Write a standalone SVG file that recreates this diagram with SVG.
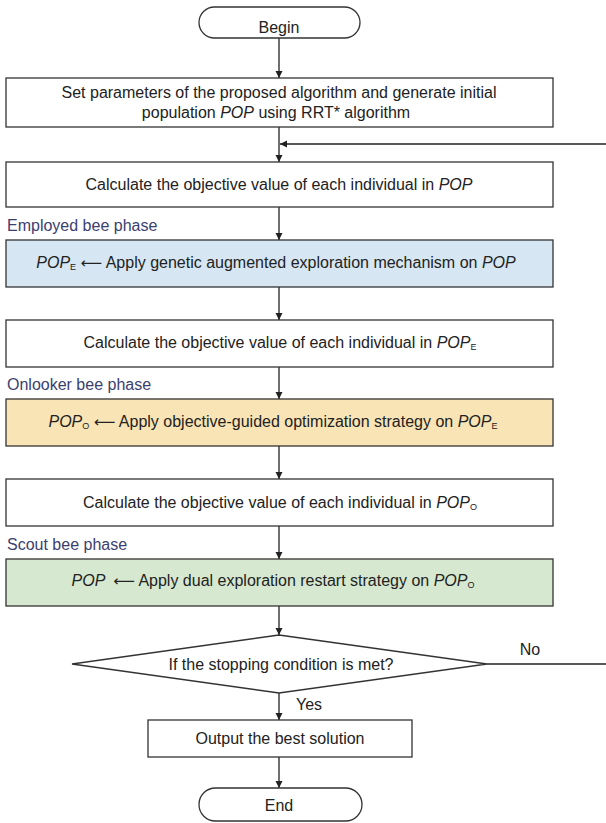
<svg xmlns="http://www.w3.org/2000/svg" width="606" height="823" viewBox="0 0 606 823">
  <style>
    .box { stroke: #333; stroke-width: 1.3; fill: #fff; }
    .blue { fill: #d6e6f3; }
    .yellow { fill: #f9e4b5; }
    .green { fill: #d6e9d0; }
    .t { font-family: "Liberation Sans", Arial, sans-serif; font-size: 16px; fill: #222; text-anchor: middle; }
    .lbl { font-family: "Liberation Sans", Arial, sans-serif; font-size: 16px; fill: #3c4070; }
    .i { font-style: italic; }
    .sub { font-size: 9px; }
    .arr { font-family: "DejaVu Sans", sans-serif; font-size: 15px; }
    .conn { stroke: #222; stroke-width: 1.3; fill: none; }
  </style>
  <defs>
    <marker id="ah" viewBox="0 0 10 10" refX="10" refY="5" markerWidth="7" markerHeight="9" markerUnits="userSpaceOnUse" orient="auto">
      <path d="M0,0 L10,5 L0,10 z" fill="#222"/>
    </marker>
  </defs>

  <rect width="606" height="823" fill="#fff"/>

  <!-- connectors -->
  <g id="connectors">
    <line class="conn" x1="279" y1="38" x2="279" y2="78" marker-end="url(#ah)"/>
    <line class="conn" x1="279" y1="127" x2="279" y2="162" marker-end="url(#ah)"/>
    <line class="conn" x1="606" y1="144" x2="280" y2="144" marker-end="url(#ah)"/>
    <line class="conn" x1="279" y1="207" x2="279" y2="240" marker-end="url(#ah)"/>
    <line class="conn" x1="279" y1="287" x2="279" y2="320" marker-end="url(#ah)"/>
    <line class="conn" x1="279" y1="367" x2="279" y2="399" marker-end="url(#ah)"/>
    <line class="conn" x1="279" y1="446" x2="279" y2="479" marker-end="url(#ah)"/>
    <line class="conn" x1="279" y1="526" x2="279" y2="559" marker-end="url(#ah)"/>
    <line class="conn" x1="279" y1="606" x2="279" y2="635" marker-end="url(#ah)"/>
    <line class="conn" x1="487" y1="664" x2="606" y2="664"/>
    <line class="conn" x1="279" y1="693" x2="279" y2="720" marker-end="url(#ah)"/>
    <line class="conn" x1="279" y1="757" x2="279" y2="788" marker-end="url(#ah)"/>
    <text class="t" x="530" y="655">No</text>
    <text class="t" x="309" y="710">Yes</text>
  </g>

  <g id="begin">
    <rect class="box" x="199" y="7" width="161" height="31" rx="15.5"/>
    <text class="t" x="279" y="33">Begin</text>
  </g>

  <g id="init">
    <rect class="box" x="6" y="78" width="547" height="49"/>
    <text class="t" x="279" y="98">Set parameters of the proposed algorithm and generate initial</text>
    <text class="t" x="276" y="118">population <tspan class="i">POP</tspan> using RRT* algorithm</text>
  </g>

  <g id="eval-pop">
    <rect class="box" x="6" y="162" width="547" height="45"/>
    <text class="t" x="279" y="190">Calculate the objective value of each individual in <tspan class="i">POP</tspan></text>
  </g>

  <text class="lbl" x="7" y="231">Employed bee phase</text>
  <g id="employed">
    <rect class="box blue" x="6" y="240" width="547" height="47"/>
    <text class="t" x="276" y="268"><tspan class="i">POP</tspan><tspan class="sub" dy="2">E</tspan><tspan dy="-2"> </tspan><tspan class="arr">⟵</tspan> Apply genetic augmented exploration mechanism on <tspan class="i">POP</tspan></text>
  </g>

  <g id="eval-pope">
    <rect class="box" x="6" y="320" width="547" height="47"/>
    <text class="t" x="280" y="348">Calculate the objective value of each individual in <tspan class="i">POP</tspan><tspan class="sub" dy="2">E</tspan></text>
  </g>

  <text class="lbl" x="7" y="390">Onlooker bee phase</text>
  <g id="onlooker">
    <rect class="box yellow" x="6" y="399" width="547" height="47"/>
    <text class="t" x="273" y="427"><tspan class="i">POP</tspan><tspan class="sub" dy="2">O</tspan><tspan dy="-2"> </tspan><tspan class="arr">⟵</tspan> Apply objective-guided optimization strategy on <tspan class="i">POP</tspan><tspan class="sub" dy="2">E</tspan></text>
  </g>

  <g id="eval-popo">
    <rect class="box" x="6" y="479" width="547" height="47"/>
    <text class="t" x="280" y="508">Calculate the objective value of each individual in <tspan class="i">POP</tspan><tspan class="sub" dy="2">O</tspan></text>
  </g>

  <text class="lbl" x="7" y="550">Scout bee phase</text>
  <g id="scout">
    <rect class="box green" x="6" y="559" width="547" height="47"/>
    <text class="t" x="273" y="586"><tspan class="i">POP</tspan><tspan class="arr" dx="8">⟵</tspan> Apply dual exploration restart strategy on <tspan class="i">POP</tspan><tspan class="sub" dy="2">O</tspan></text>
  </g>

  <g id="decision">
    <polygon class="box" points="279,635 487,664 279,693 72,664"/>
    <text class="t" x="281" y="670">If the stopping condition is met?</text>
  </g>

  <g id="output">
    <rect class="box" x="148" y="720" width="264" height="37"/>
    <text class="t" x="280" y="744">Output the best solution</text>
  </g>

  <g id="end">
    <rect class="box" x="199" y="788" width="163" height="33" rx="16.5"/>
    <text class="t" x="279" y="811">End</text>
  </g>
</svg>
